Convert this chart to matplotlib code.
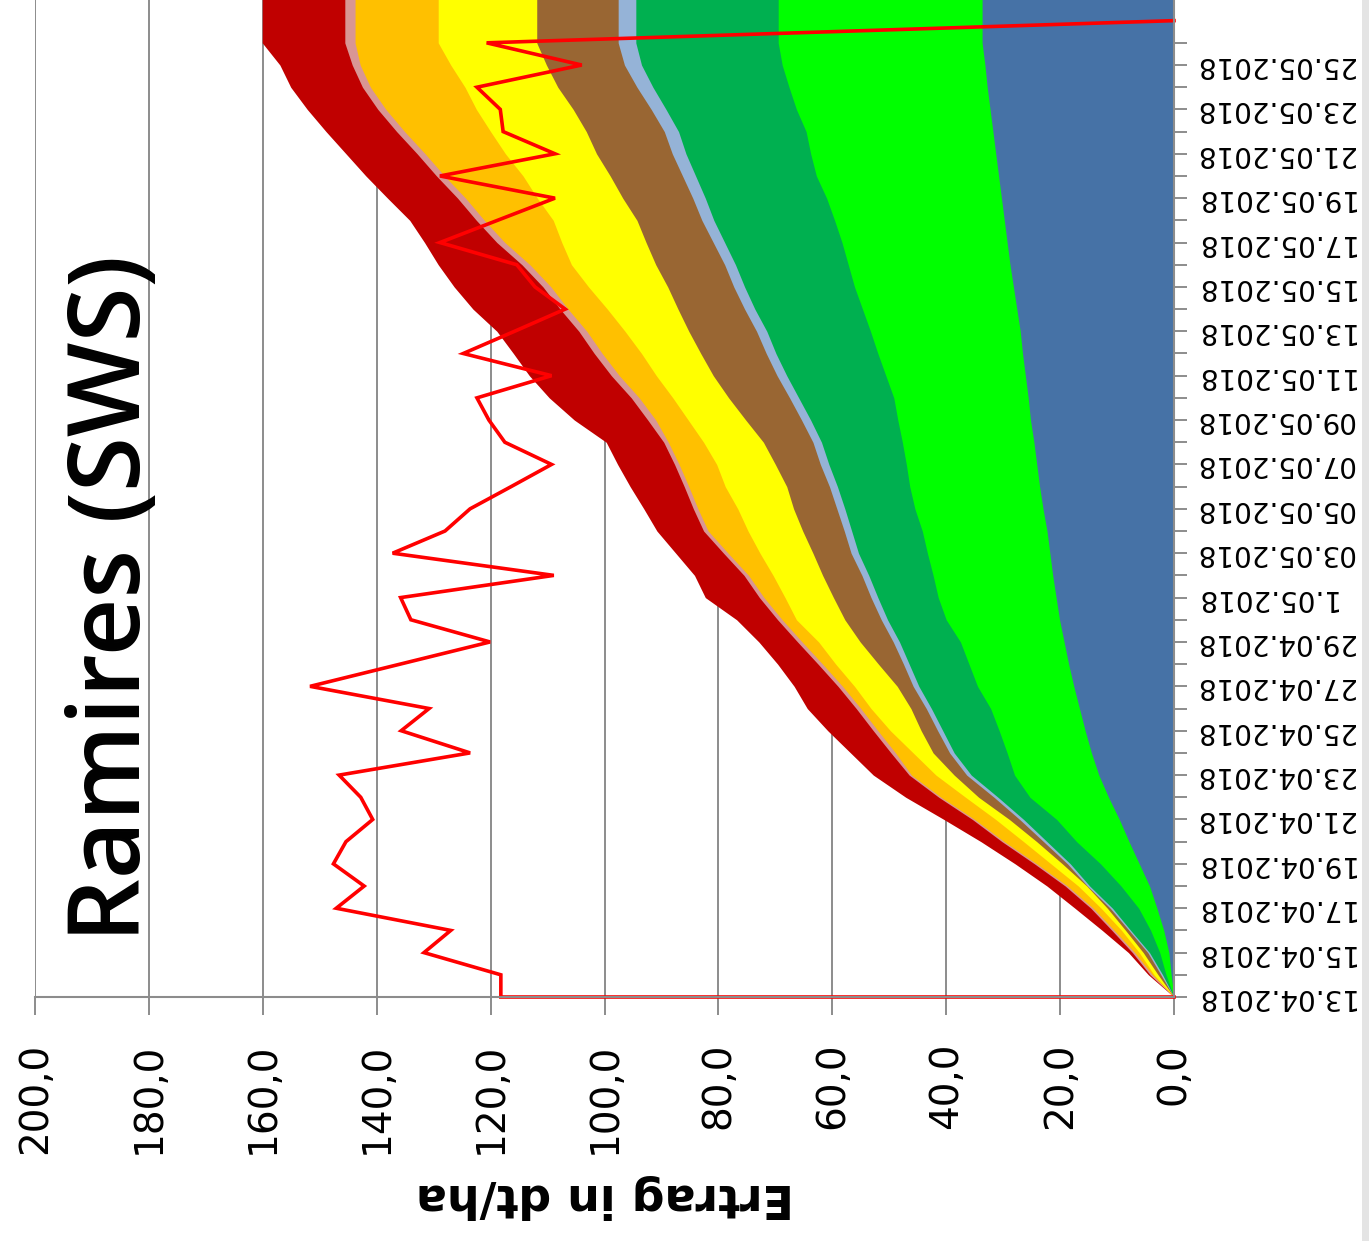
import matplotlib
matplotlib.use('Agg')
import matplotlib.pyplot as plt
import numpy as np
from matplotlib.patches import Rectangle
from matplotlib.ticker import FixedLocator, FuncFormatter

# ---------------- data (day 0 = 13.04.2018) ----------------
# cumulative (stacked) outer boundaries of each area layer, one value per day
cum_blue = [0, 0.5, 0.9, 1.8, 3.0, 4.3, 6.1, 7.9, 9.6, 11.5, 13.2, 14.5, 15.6, 16.6, 17.6, 18.5,
            19.3, 20.1, 20.7, 21.3, 21.8, 22.3, 23.0, 23.6, 24.1, 24.6, 25.2, 25.6, 26.1, 26.6, 27.0,
            27.6, 28.2, 28.8, 29.3, 29.8, 30.3, 30.8, 31.3, 31.8, 32.3, 32.8, 33.2, 33.7, 33.7, 33.7]
cum_green = [0, 1.4, 2.5, 4.1, 6.2, 9.3, 12.9, 17.1, 20.6, 25.3, 28.0, 29.3, 30.7, 32.2, 34.5, 36.0,
             37.5, 40.0, 41.4, 42.3, 43.3, 44.2, 45.5, 46.4, 47.0, 47.7, 48.5, 49.2, 50.6, 52.0, 53.3,
             54.7, 56.1, 57.2, 58.3, 59.6, 61.0, 62.8, 63.8, 64.6, 66.3, 67.6, 68.8, 69.5, 69.5, 69.5]
cum_darkgreen = [0, 2.0, 4.3, 7.6, 10.8, 14.8, 18.2, 22.3, 26.4, 30.9, 35.6, 38.6, 40.6, 42.6, 44.8,
                 46.5, 48.2, 50.3, 52.0, 53.6, 55.4, 56.6, 57.8, 59.1, 60.6, 61.9, 63.8, 65.9, 68.0,
                 69.9, 71.5, 73.6, 75.4, 77.0, 78.9, 80.8, 82.3, 84.0, 85.7, 87.0, 89.2, 91.5, 93.5,
                 94.5, 94.5, 94.5]
cum_lightblue = [0, 2.3, 4.6, 7.9, 11.2, 15.2, 18.7, 22.9, 27.1, 31.6, 36.4, 39.4, 41.5, 43.5, 45.8,
                 47.5, 49.3, 51.4, 53.2, 54.8, 56.7, 57.9, 59.2, 60.5, 62.1, 63.4, 65.4, 67.5, 69.7,
                 71.6, 73.3, 75.4, 77.3, 78.9, 80.9, 82.9, 84.5, 86.3, 88.1, 89.5, 91.8, 94.3, 96.5,
                 97.6, 97.6, 97.6]
cum_brown = [0, 2.8, 5.4, 8.5, 11.7, 15.3, 19.6, 24.1, 28.9, 34.3, 38.6, 42.3, 44.4, 46.2, 48.6, 51.9,
             55.1, 57.8, 59.8, 61.7, 63.4, 65.2, 66.8, 68.0, 70.0, 72.1, 75.2, 78.2, 80.9, 83.1, 85.2,
             87.1, 88.9, 91.0, 92.7, 94.3, 96.8, 99.0, 101.4, 103.2, 105.5, 108.2, 110.2, 111.9,
             111.9, 111.9]
cum_yellow = [0, 3.5, 6.1, 9.2, 12.8, 16.8, 21.6, 26.4, 31.3, 36.6, 41.8, 45.8, 49.8, 53.2, 56.1,
              59.4, 62.4, 66.3, 68.3, 70.4, 72.7, 74.8, 76.6, 78.8, 80.3, 82.6, 85.3, 88.0, 90.9, 93.5,
              96.4, 99.5, 102.8, 105.8, 107.5, 109.0, 111.8, 114.3, 117.4, 120.0, 122.5, 124.5,
              127.0, 129.2, 129.2, 129.2]
cum_orange = [0, 3.8, 6.9, 10.5, 14.2, 18.7, 24.1, 29.8, 35.0, 40.9, 46.1, 48.9, 52.0, 55.0, 58.2,
              61.7, 65.3, 68.8, 72.0, 74.7, 78.3, 81.8, 83.6, 85.2, 86.9, 88.8, 91.0, 93.9, 97.4,
              100.4, 103.1, 106.4, 109.4, 113.1, 117.5, 121.1, 124.4, 128.1, 131.5, 135.1, 138.4,
              141.1, 142.9, 143.8, 143.8, 143.8]
cum_pink = [0, 4.2, 7.3, 10.9, 14.6, 19.1, 24.5, 30.2, 35.4, 41.3, 46.5, 49.7, 52.8, 55.8, 59.0,
            62.5, 66.1, 69.6, 72.8, 75.5, 79.1, 82.6, 84.4, 86.0, 87.7, 89.6, 92.4, 95.3, 98.8, 101.8,
            104.5, 107.8, 110.8, 114.5, 118.9, 122.5, 125.8, 129.5, 132.9, 136.5, 139.8, 142.5,
            144.3, 145.6, 145.6, 145.6]
cum_darkred = [0, 4.5, 8.0, 12.6, 17.4, 22.3, 27.9, 33.9, 40.4, 47.1, 52.8, 56.8, 60.8, 64.4, 66.7,
               69.6, 72.9, 76.8, 82.3, 84.2, 87.5, 90.8, 93.1, 95.5, 97.7, 99.7, 105.3, 109.7, 113.2,
               116.0, 118.9, 123.1, 126.4, 129.2, 131.6, 134.2, 138.1, 141.9, 145.4, 148.9, 152.2,
               155.1, 157.0, 160.1, 160.1, 160.1]

# red line series
red_days = [0, 0, 1, 2, 3, 4, 5, 6, 7, 8, 9, 10, 11, 12, 13, 14, 15, 16, 17, 18, 19, 20, 21, 22,
            23, 24, 25, 26, 27, 28, 29, 30, 31, 32, 33, 34, 35, 36, 37, 38, 39, 40, 41, 42, 43, 44]
red_vals = [0, 118.2, 118.2, 131.7, 127.0, 147.1, 142.2, 147.6, 145.4, 140.7, 142.8, 146.6, 123.6,
            135.7, 130.8, 151.7, 135.9, 120.1, 134.0, 135.8, 108.9, 137.2, 128.0, 123.6, 116.4,
            109.3, 117.5, 120.3, 122.4, 109.3, 124.8, 115.8, 106.9, 112.2, 115.4, 128.9, 118.8,
            108.7, 128.9, 108.7, 117.8, 118.3, 122.4, 104.0, 120.7, 0]

date_labels = ['13.04.2018', '15.04.2018', '17.04.2018', '19.04.2018', '21.04.2018', '23.04.2018',
               '25.04.2018', '27.04.2018', '29.04.2018', '1.05.2018', '03.05.2018', '05.05.2018',
               '07.05.2018', '09.05.2018', '11.05.2018', '13.05.2018', '15.05.2018', '17.05.2018',
               '19.05.2018', '21.05.2018', '23.05.2018', '25.05.2018']
value_ticks = [0, 20, 40, 60, 80, 100, 120, 140, 160, 180, 200]

title = 'Ramires (SWS)'
value_label = 'Ertrag in dt/ha'

# ---------------- figure ----------------
W, H = 1369, 1241
fig = plt.figure(figsize=(W / 100, H / 100), dpi=100)
fig.patch.set_facecolor('white')
ax = fig.add_axes([35 / W, (H - 997) / H, 1139 / W, 997 / H])

days = np.arange(len(cum_blue))
layers = [
    (cum_darkred, '#C00000'),
    (cum_pink, '#D99694'),
    (cum_orange, '#FFC000'),
    (cum_yellow, '#FFFF00'),
    (cum_brown, '#996633'),
    (cum_lightblue, '#95B3D7'),
    (cum_darkgreen, '#00B050'),
    (cum_green, '#00FF00'),
    (cum_blue, '#4672A6'),
]
for vals, col in layers:
    ax.fill_betweenx(days, 0, vals, color=col, lw=0, zorder=1)

ax.plot(red_vals, red_days, color='#FF0000', lw=2.6, zorder=3, clip_on=False,
        solid_joinstyle='miter')

ax.set_xlim(200, 0)
ax.set_ylim(0, 997 / 22.19)

grid_col = '#8C8C8C'
ax.set_axisbelow(True)
ax.xaxis.set_major_locator(FixedLocator(value_ticks))
ax.xaxis.set_major_formatter(FuncFormatter(lambda v, p: f"{v:.1f}".replace('.', ',')))
ax.grid(axis='x', color=grid_col, lw=1.4)
ax.grid(axis='y', visible=False)

for s in ['top', 'left']:
    ax.spines[s].set_visible(False)
for s in ['bottom', 'right']:
    ax.spines[s].set_color(grid_col)
    ax.spines[s].set_linewidth(1.5)
    ax.spines[s].set_zorder(4)

ax.tick_params(axis='x', direction='out', length=13, width=1.4, color=grid_col,
               labelsize=28, labelrotation=90, pad=20, labelcolor='black')

ax.yaxis.tick_right()
ax.yaxis.set_major_locator(FixedLocator(list(range(0, 2 * len(date_labels), 2))))
ax.yaxis.set_minor_locator(FixedLocator(list(range(1, 46, 2))))
ax.set_yticklabels(date_labels)
ax.tick_params(axis='y', which='both', direction='out', length=9, width=1.4, color=grid_col,
               right=True, left=False)
ax.tick_params(axis='y', which='major', labelsize=20, labelrotation=180, pad=6,
               labelcolor='black')
for lab in ax.get_yticklabels():
    lab.set_ha('left')
    lab.set_va('center')

fig.text(114 / W, 1 - 942 / H, title, rotation=90, ha='center', va='bottom',
         fontsize=72, family='Open Sans', fontweight='semibold', color='black')
fig.text(605 / W, 1 - 1197 / H, value_label, rotation=180, ha='center', va='center',
         fontsize=33, fontweight='bold', color='black')

fig.add_artist(Rectangle((1362 / W, 0), 7 / W, 1, transform=fig.transFigure,
                         facecolor='#E4E4E4', edgecolor='none', zorder=10))

fig.savefig('out.png', dpi=100, facecolor='white')
